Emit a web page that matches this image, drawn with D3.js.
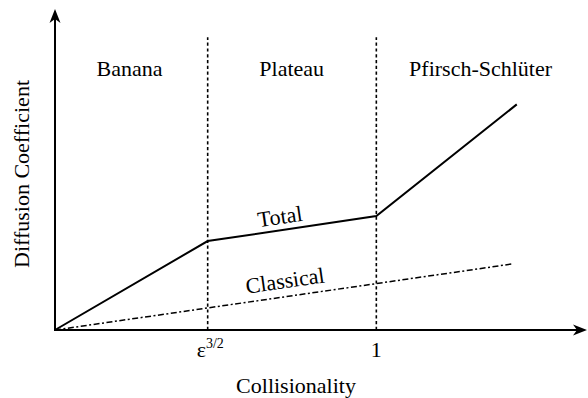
<!DOCTYPE html>
<html><head><meta charset="utf-8"><script src="https://cdn.jsdelivr.net/npm/d3@7"></script></head>
<body style="margin:0">
<svg id="c" width="588" height="398"></svg>
<script>
// Schematic transport regimes: diffusion coefficient vs collisionality
const regimeNames = ["Banana", "Plateau", "Pfirsch-Schl\u00fcter"];
const regimeCenters = [1.4, 4.45, 8.0];          // collisionality units
const boundaryX = [2.87, 6.04];                  // epsilon^(3/2) and 1
const tickLabels = ["\u03b5", "1"];
const totalX = [0, 2.87, 6.04, 8.68];
const totalY = [0, 2.78, 3.56, 7.05];
const classicalX = [0, 8.58];
const classicalY = [0, 2.06];
const guideTop = 9.15;
const labelRegimeY = 7.95;

const svg = d3.select("#c");
const x = d3.scaleLinear().domain([0, 10]).range([55, 587]);
const y = d3.scaleLinear().domain([0, 10]).range([330, 10]);

// dotted regime boundaries
svg.selectAll("line.bound").data(boundaryX).join("line")
  .attr("class", "bound")
  .attr("x1", d => x(d)).attr("x2", d => x(d))
  .attr("y1", y(0)).attr("y2", y(guideTop))
  .attr("stroke", "#000").attr("stroke-width", 1.6)
  .attr("stroke-dasharray", "3.2,2.6");

const line = d3.line().x(d => x(d[0])).y(d => y(d[1]));

// classical diffusion (dash-dot)
svg.append("path")
  .datum(d3.zip(classicalX, classicalY))
  .attr("d", line)
  .attr("fill", "none").attr("stroke", "#000").attr("stroke-width", 1.5)
  .attr("stroke-dasharray", "6,2.5,2,2.5");

// total diffusion
svg.append("path")
  .datum(d3.zip(totalX, totalY))
  .attr("d", line)
  .attr("fill", "none").attr("stroke", "#000").attr("stroke-width", 2)
  .attr("stroke-linejoin", "miter");

// axes with arrowheads
const arrow = "M0,0 L-14,-5.5 L-10,0 L-14,5.5 Z";
svg.append("line")
  .attr("x1", x(0)).attr("x2", x(10) - 8)
  .attr("y1", y(0)).attr("y2", y(0))
  .attr("stroke", "#000").attr("stroke-width", 2);
svg.append("path").attr("d", arrow)
  .attr("transform", `translate(${x(10)},${y(0)})`);
svg.append("line")
  .attr("x1", x(0)).attr("x2", x(0))
  .attr("y1", y(0) + 1).attr("y2", y(10) + 8)
  .attr("stroke", "#000").attr("stroke-width", 2);
svg.append("path").attr("d", arrow)
  .attr("transform", `translate(${x(0)},${y(10) - 1}) rotate(-90)`);

// text helper: serif face, 22px
function txt(s) {
  return svg.append("text").attr("font-size", 22).style("font-family", "Liberation Serif").text(s);
}

// regime names
regimeNames.forEach((name, i) => {
  txt(name).attr("x", x(regimeCenters[i])).attr("y", y(labelRegimeY)).attr("text-anchor", "middle");
});

// tick labels at the regime boundaries
const eps = txt(tickLabels[0]).attr("x", x(boundaryX[0]) - 11).attr("y", 357);
eps.append("tspan").attr("dy", -9).attr("font-size", 14).text("3/2");
txt(tickLabels[1]).attr("x", x(boundaryX[1])).attr("y", 357).attr("text-anchor", "middle");

// curve labels, rotated along the curves
txt("Total").attr("transform", "translate(281,224) rotate(-8.4)").attr("text-anchor", "middle");
txt("Classical").attr("transform", "translate(286,288) rotate(-8.2)").attr("text-anchor", "middle");

// axis titles
txt("Collisionality").attr("x", 296).attr("y", 393).attr("text-anchor", "middle");
txt("Diffusion Coefficient").attr("transform", "translate(29,174) rotate(-90)").attr("text-anchor", "middle");
</script></body></html>
